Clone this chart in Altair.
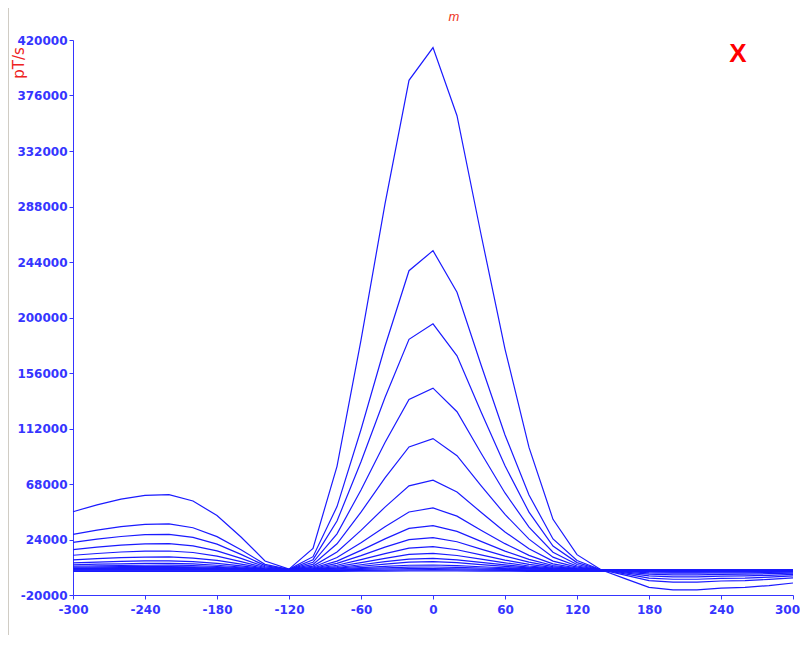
import altair as alt
import pandas as pd

# x positions (sample every 20 units)
x_vals = [-300, -280, -260, -240, -220, -200, -180, -160, -140, -120, -100, -80, -60, -40, -20,
          0, 20, 40, 60, 80, 100, 120, 140, 160, 180, 200, 220, 240, 260, 280, 300]

# curve values in thousands of pT/s
c01 = [46, 51.5, 56, 59, 59.5, 54.5, 43, 26, 7, 0.5, 17, 82, 182, 290, 388, 414, 360, 266, 175, 97, 40, 12, 0, -7, -14, -16, -16, -14.5, -14, -12.5, -10.5]
c02 = [28.1, 31.5, 34.2, 36.0, 36.4, 33.3, 26.3, 15.9, 4.3, 0.3, 10.4, 50.1, 111.2, 177.2, 237.1, 253, 220, 162.5, 106.9, 59.3, 24.4, 7.3, 0, -4.3, -8.6, -9.8, -9.8, -8.9, -8.6, -7.6, -6.4]
c03 = [21.7, 24.3, 26.4, 27.8, 28.0, 25.7, 20.3, 12.2, 3.3, 0.2, 8.0, 38.6, 85.7, 136.6, 182.7, 195, 169.6, 125.3, 82.4, 45.7, 18.8, 5.7, 0, -3.3, -6.6, -7.5, -7.5, -6.8, -6.6, -5.9, -4.9]
c04 = [16.0, 17.9, 19.5, 20.5, 20.7, 19.0, 15.0, 9.0, 2.4, 0.2, 5.9, 28.5, 63.3, 100.9, 135.0, 144, 125.3, 92.6, 60.9, 33.8, 13.9, 4.2, 0, -2.4, -4.9, -5.6, -5.6, -5.0, -4.9, -4.4, -3.7]
c05 = [11.5, 12.9, 14.1, 14.8, 14.9, 13.7, 10.8, 6.5, 1.8, 0.1, 4.3, 20.6, 45.7, 72.8, 97.4, 104, 90.4, 66.8, 43.9, 24.3, 10.0, 3.0, 0, -1.8, -3.5, -4.0, -4.0, -3.6, -3.5, -3.1, -2.6]
c06 = [7.9, 8.8, 9.6, 10.1, 10.2, 9.3, 7.4, 4.5, 1.2, 0.1, 2.9, 14.1, 31.2, 49.7, 66.5, 71, 61.7, 45.6, 30.0, 16.6, 6.9, 2.1, 0, -1.2, -2.4, -2.7, -2.7, -2.5, -2.4, -2.1, -1.8]
c07 = [5.4, 6.1, 6.6, 7.0, 7.0, 6.4, 5.1, 3.1, 0.8, 0.1, 2.0, 9.7, 21.5, 34.2, 45.8, 49, 42.5, 31.4, 20.7, 11.4, 4.7, 1.4, 0, -0.8, -1.7, -1.9, -1.9, -1.7, -1.7, -1.5, -1.2]
c08 = [3.9, 4.4, 4.7, 5.0, 5.0, 4.6, 3.6, 2.2, 0.6, 0, 1.4, 6.9, 15.4, 24.5, 32.8, 35, 30.4, 22.5, 14.8, 8.2, 3.4, 1.0, 0, -0.6, -1.2, -1.4, -1.4, -1.2, -1.2, -1.1, -0.9]
c09 = [2.8, 3.2, 3.4, 3.6, 3.7, 3.4, 2.6, 1.6, 0.4, 0, 1.0, 5.1, 11.2, 17.9, 23.9, 25.5, 22.2, 16.4, 10.8, 6.0, 2.5, 0.7, 0, -0.4, -0.9, -1.0, -1.0, -0.9, -0.9, -0.8, -0.6]
c10 = [2.0, 2.3, 2.5, 2.6, 2.6, 2.4, 1.9, 1.1, 0.3, 0, 0.8, 3.6, 8.0, 12.8, 17.1, 18.3, 15.9, 11.8, 7.7, 4.3, 1.8, 0.5, 0, -0.3, -0.6, -0.7, -0.7, -0.6, -0.6, -0.6, -0.5]
c11 = [1.4, 1.6, 1.8, 1.9, 1.9, 1.7, 1.4, 0.8, 0.2, 0, 0.5, 2.6, 5.7, 9.1, 12.2, 13, 11.3, 8.4, 5.5, 3.0, 1.3, 0.4, 0, -0.2, -0.4, -0.5, -0.5, -0.5, -0.4, -0.4, -0.3]
c12 = [1.0, 1.1, 1.2, 1.3, 1.3, 1.2, 0.9, 0.6, 0.2, 0, 0.4, 1.8, 4.0, 6.4, 8.5, 9.1, 7.9, 5.9, 3.9, 2.1, 0.9, 0.3, 0, -0.2, -0.3, -0.4, -0.4, -0.3, -0.3, -0.3, -0.2]
c13 = [0.7, 0.8, 0.9, 0.9, 0.9, 0.8, 0.7, 0.4, 0.1, 0, 0.3, 1.3, 2.8, 4.5, 6.0, 6.4, 5.6, 4.1, 2.7, 1.5, 0.6, 0.2, 0, -0.1, -0.2, -0.2, -0.2, -0.2, -0.2, -0.2, -0.2]
c14 = [0.4, 0.5, 0.5, 0.5, 0.5, 0.5, 0.4, 0.2, 0.1, 0, 0.2, 0.8, 1.7, 2.7, 3.6, 3.8, 3.3, 2.4, 1.6, 0.9, 0.4, 0.1, 0, -0.1, -0.1, -0.1, -0.1, -0.1, -0.1, -0.1, -0.1]
c15 = [0.2, 0.3, 0.3, 0.3, 0.3, 0.3, 0.2, 0.1, 0, 0, 0.1, 0.4, 1.0, 1.5, 2.1, 2.2, 1.9, 1.4, 0.9, 0.5, 0.2, 0.1, 0, 0, -0.1, -0.1, -0.1, -0.1, -0.1, -0.1, -0.1]
c16 = [-0.3, -0.3, -0.3, -0.3, -0.3, -0.3, -0.3, -0.3, -0.3, -0.2, -0.2, 0, 0.3, 0.6, 0.9, 1.0, 0.8, 0.5, 0.3, 0, -0.2, -0.3, -0.3, -0.4, -0.4, -0.4, -0.4, -0.4, -0.4, -0.4, -0.4]
c17 = [-0.8, -0.8, -0.8, -0.8, -0.8, -0.8, -0.8, -0.8, -0.7, -0.6, -0.6, -0.5, -0.4, -0.2, 0, 0.1, 0, -0.2, -0.4, -0.5, -0.6, -0.7, -0.8, -0.8, -0.8, -0.8, -0.8, -0.8, -0.8, -0.8, -0.8]
c18 = [-1.2, -1.2, -1.2, -1.2, -1.2, -1.2, -1.2, -1.2, -1.2, -1.2, -1.2, -1.2, -1.1, -1.0, -0.9, -0.9, -0.9, -1.0, -1.1, -1.2, -1.2, -1.2, -1.2, -1.2, -1.2, -1.2, -1.2, -1.2, -1.2, -1.2, -1.2]

y_ticks = [-20000, 24000, 68000, 112000, 156000, 200000, 244000, 288000, 332000, 376000, 420000]
x_ticks = [-300, -240, -180, -120, -60, 0, 60, 120, 180, 240, 300]

curves = [c01, c02, c03, c04, c05, c06, c07, c08, c09, c10, c11, c12, c13, c14, c15, c16, c17, c18]
rows = []
for i, c in enumerate(curves):
    for xv, v in zip(x_vals, c):
        rows.append({"x": xv, "y": v * 1000, "curve": i})
df = pd.DataFrame(rows)

BLUE = "#1a1aff"
AXIS_BLUE = "#3535ff"

lines = alt.Chart(df).mark_line(color=BLUE, strokeWidth=1.2).encode(
    x=alt.X("x:Q",
            scale=alt.Scale(domain=[-300, 300], nice=False, zero=False),
            axis=alt.Axis(values=x_ticks, title=None, grid=False, labelExpr="datum.value + ''",
                          domainColor=AXIS_BLUE, tickColor=AXIS_BLUE, labelColor=AXIS_BLUE,
                          labelFont="DejaVu Sans", labelFontSize=12, labelFontWeight="bold",
                          tickSize=4, labelPadding=5, labelFlush=False,
                          labelOffset={"condition": {"test": "datum.value == 300", "value": -6},
                                       "value": 0})),
    y=alt.Y("y:Q",
            scale=alt.Scale(domain=[-20000, 420000], nice=False, zero=False),
            axis=alt.Axis(values=y_ticks, title=None, grid=False, labelExpr="datum.value + ''",
                          domainColor=AXIS_BLUE, tickColor=AXIS_BLUE, labelColor=AXIS_BLUE,
                          labelFont="DejaVu Sans", labelFontSize=12, labelFontWeight="bold",
                          tickSize=4, labelPadding=2, labelFlush=False)),
    detail="curve:N",
    order="x:Q",
)

one = pd.DataFrame({"t": ["X"]})

x_mark = alt.Chart(one).mark_text(
    text="X", color="#ff0000", font="Liberation Sans", fontSize=26, fontWeight="bold",
    align="center", baseline="alphabetic"
).encode(x=alt.value(665), y=alt.value(22))

m_mark = alt.Chart(one).mark_text(
    text="m", color="#ee3322", font="Liberation Sans", fontSize=13, fontStyle="italic",
    align="center", baseline="alphabetic"
).encode(x=alt.value(381), y=alt.value(-19))

unit_mark = alt.Chart(one).mark_text(
    text="pT/s", color="#ee2222", font="DejaVu Sans", fontSize=15, angle=270,
    align="center", baseline="middle"
).encode(x=alt.value(-54), y=alt.value(23))

border = alt.Chart(one).mark_rule(color="#d0ccc4", strokeWidth=1).encode(
    x=alt.value(-64.5), y=alt.value(-40), y2=alt.value(630)
)

chart = alt.layer(border, lines, x_mark, m_mark, unit_mark).properties(
    width=720, height=555,
    autosize=alt.AutoSizeParams(type="none"),
    padding={"left": 65, "top": 32, "right": 7, "bottom": 40},
    background="white",
).configure_view(strokeWidth=0)

chart.save("out.html", embed_options={"renderer": "svg", "actions": False})
